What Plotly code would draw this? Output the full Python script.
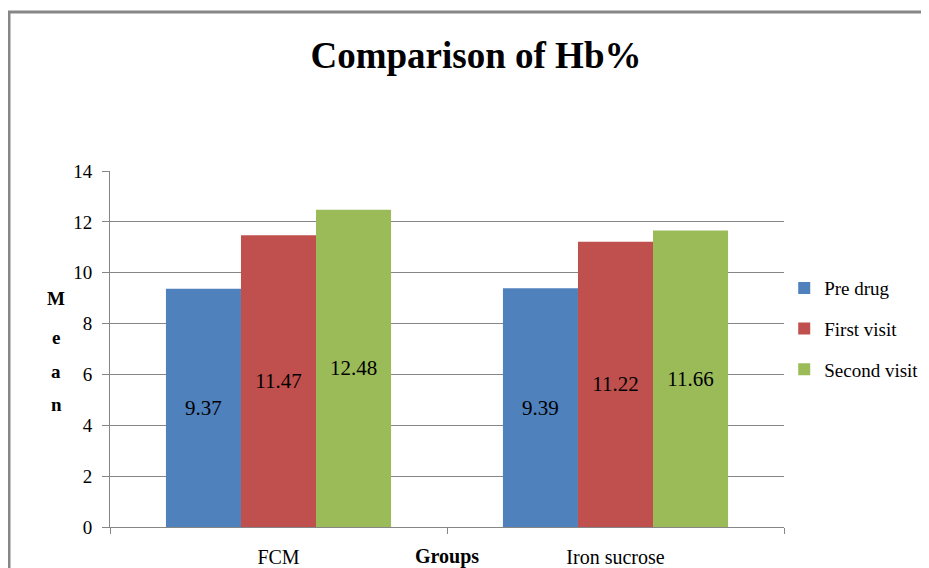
import plotly.graph_objects as go

groups = ["FCM", "Iron sucrose"]
series_names = ["Pre drug", "First visit", "Second visit"]
pre_drug = [9.37, 9.39]
first_visit = [11.47, 11.22]
second_visit = [12.48, 11.66]
colors = ["#4F81BD", "#C0504D", "#9BBB59"]
y_ticks = [0, 2, 4, 6, 8, 10, 12, 14]

FONT = "Times New Roman, Liberation Serif, DejaVu Serif, serif"
# the page body adds an 8px offset, compensate in the margins
OFF = 8
L, T, W, H = 110 - OFF, 171 - OFF, 674, 356
fig = go.Figure()
for i, (name, vals) in enumerate(zip(series_names, [pre_drug, first_visit, second_visit])):
    fig.add_trace(go.Bar(
        x=groups, y=vals, name=name, marker=dict(color=colors[i], line=dict(width=0)),
        text=[f"{v:.2f}" for v in vals], textposition="inside", insidetextanchor="middle",
        textfont=dict(family=FONT, size=21, color="black"), legendgroup=name,
    ))

fig.update_layout(
    width=929, height=568,
    margin=dict(l=L, r=929 - L - W, t=T, b=568 - T - H, autoexpand=False),
    paper_bgcolor="white", plot_bgcolor="white",
    barmode="group", bargap=0.332, bargroupgap=0,
    font=dict(family=FONT, size=18, color="black"),
    title=dict(text="<b>Comparison of Hb%</b>", font=dict(family=FONT, size=37, color="black"),
               x=(476 - OFF)/929, xanchor="center", xref="container", y=1-(55 - OFF)/568,
               yanchor="middle", yref="container"),
    legend=dict(x=1.03 - 20/674, xanchor="left", y=0.556, yanchor="middle", traceorder="grouped",
                tracegroupgap=13, font=dict(family=FONT, size=19), itemwidth=30, bgcolor="rgba(0,0,0,0)"),
    showlegend=True,
)
fig.update_yaxes(range=[0, 14], tickvals=y_ticks, showgrid=True, gridcolor="#868686", gridwidth=1,
                 showline=True, linecolor="#868686", linewidth=1, ticks="outside", ticklen=7,
                 tickcolor="#868686", tickfont=dict(family=FONT, size=19), zeroline=False,
                 ticklabelstandoff=6)
fig.update_xaxes(showline=True, linecolor="#868686", linewidth=1, ticks="outside", tickson="boundaries",
                 ticklen=6, tickcolor="#868686", tickfont=dict(family=FONT, size=20), ticklabelstandoff=12)

# outer chart border
fig.add_shape(type="rect", xref="paper", yref="paper", x0=-101/W, x1=1.5, y0=-0.5, y1=(527-12)/H,
              line=dict(color="#878787", width=3), fillcolor="rgba(0,0,0,0)", layer="below")

fig.add_annotation(text="<b>Groups</b>", xref="paper", yref="paper", x=0.5, y=(527-556)/H,
                   showarrow=False, font=dict(family=FONT, size=20), xanchor="center", yanchor="middle")
for k, (letter, py) in enumerate(zip("Mean", [298, 337, 371, 404])):
    fig.add_annotation(text=f"<b>{letter}</b>", xref="paper", yref="paper", x=(56-110)/W,
                       y=(527-py)/H, showarrow=False, font=dict(family=FONT, size=19),
                       xanchor="center", yanchor="middle")

fig.write_html("out.html")
